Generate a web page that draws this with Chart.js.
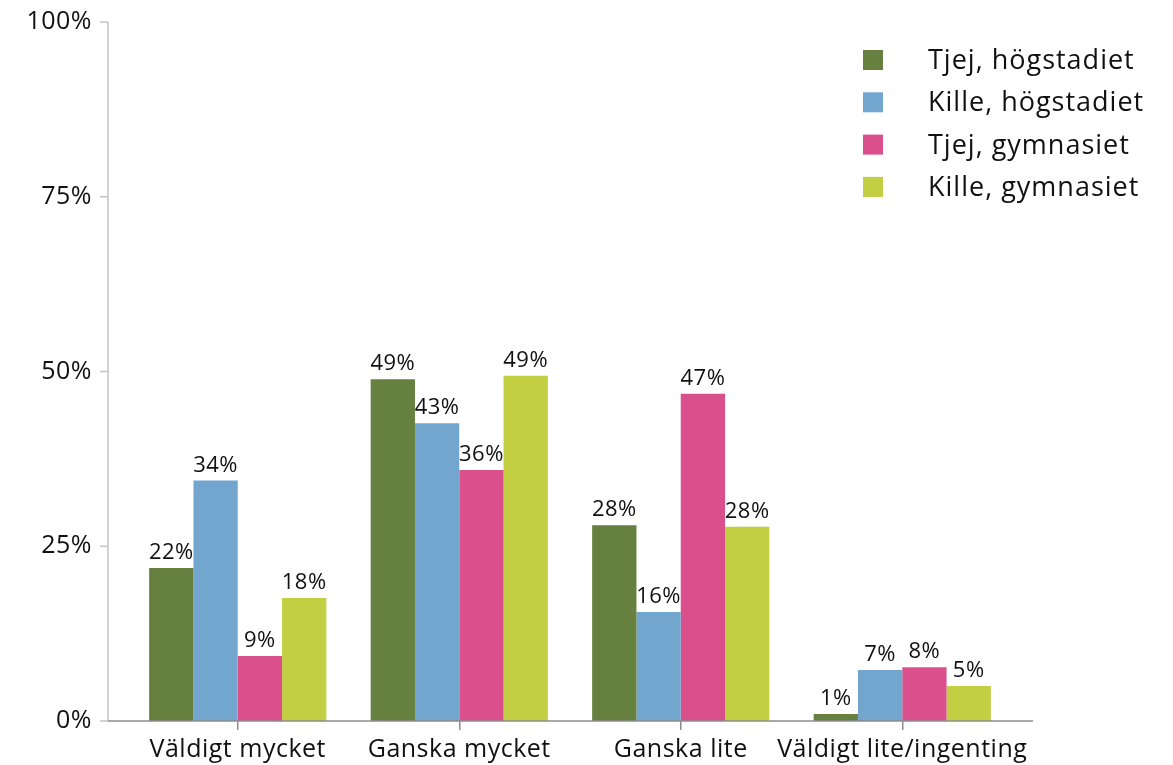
<!DOCTYPE html>
<html>
<head>
<meta charset="utf-8">
<script src="https://cdn.jsdelivr.net/npm/chart.js@4"></script>
<style>
html,body{margin:0;padding:0;background:#fff;}
#wrap{width:1173px;height:765px;position:relative;}
</style>
</head>
<body>
<div id="wrap"><canvas id="c" width="1173" height="765"></canvas></div>
<script>
const categories = ['Väldigt mycket', 'Ganska mycket', 'Ganska lite', 'Väldigt lite/ingenting'];
const seriesNames = ['Tjej, högstadiet', 'Kille, högstadiet', 'Tjej, gymnasiet', 'Kille, gymnasiet'];
const tjejHogstadiet = [21.9, 48.9, 28.0, 1.0];
const killeHogstadiet = [34.4, 42.6, 15.6, 7.3];
const tjejGymnasiet = [9.3, 35.9, 46.8, 7.7];
const killeGymnasiet = [17.6, 49.4, 27.8, 5.0];
const yTicks = [0, 25, 50, 75, 100];
const colors = ['#65803f', '#73a6cf', '#d9508c', '#c2cf42'];

const FONT = "'Open Sans', sans-serif";

const spacingPlugin = {
  id: 'spacingPlugin',
  beforeDraw(chart) { chart.ctx.letterSpacing = '0.5px'; }
};

const axesPlugin = {
  id: 'axesPlugin',
  afterDraw(chart) {
    const ctx = chart.ctx;
    const ca = chart.chartArea;
    const ys = chart.scales.y;
    const ext = 19;
    const axX = ca.left - ext;
    ctx.save();
    // y axis
    ctx.strokeStyle = '#c4c4c4';
    ctx.lineWidth = 1.5;
    ctx.beginPath();
    ctx.moveTo(axX, ys.getPixelForValue(100));
    ctx.lineTo(axX, ys.getPixelForValue(0));
    ctx.stroke();
    yTicks.forEach(v => {
      const py = ys.getPixelForValue(v);
      ctx.beginPath();
      ctx.moveTo(axX - 8, py);
      ctx.lineTo(axX, py);
      ctx.stroke();
    });
    // x axis
    ctx.strokeStyle = '#8c8c8c';
    ctx.beginPath();
    ctx.moveTo(axX, ys.getPixelForValue(0));
    ctx.lineTo(ca.right + 20, ys.getPixelForValue(0));
    ctx.stroke();
    // data labels
    ctx.fillStyle = '#111';
    ctx.letterSpacing = '0.5px';
    ctx.font = "22px " + FONT;
    ctx.textAlign = 'center';
    ctx.textBaseline = 'alphabetic';
    chart.data.datasets.forEach((ds, i) => {
      const meta = chart.getDatasetMeta(i);
      meta.data.forEach((bar, j) => {
        ctx.fillText(Math.round(ds.data[j]) + '%', bar.x, bar.y - 9);
      });
    });
    // legend
    ctx.textAlign = 'left';
    ctx.textBaseline = 'middle';
    ctx.letterSpacing = '1px';
    ctx.font = "27px " + FONT;
    chart.data.datasets.forEach((ds, i) => {
      const cy = 60 + i * 42.3;
      ctx.fillStyle = ds.backgroundColor;
      ctx.fillRect(863, cy - 10, 20, 20);
      ctx.fillStyle = '#111';
      ctx.fillText(ds.label, 928, cy + 1.5);
    });
    ctx.restore();
  }
};

new Chart(document.getElementById('c'), {
  type: 'bar',
  data: {
    labels: categories,
    datasets: [
      { label: seriesNames[0], data: tjejHogstadiet, backgroundColor: colors[0] },
      { label: seriesNames[1], data: killeHogstadiet, backgroundColor: colors[1] },
      { label: seriesNames[2], data: tjejGymnasiet, backgroundColor: colors[2] },
      { label: seriesNames[3], data: killeGymnasiet, backgroundColor: colors[3] }
    ]
  },
  options: {
    responsive: false,
    animation: false,
    devicePixelRatio: 1,
    layout: { padding: { top: 22, right: 160, left: 0, bottom: 0 } },
    datasets: { bar: { categoryPercentage: 0.8, barPercentage: 1.0, borderWidth: 0 } },
    plugins: { legend: { display: false }, tooltip: { enabled: false } },
    scales: {
      x: {
        grid: { display: true, drawOnChartArea: false, drawTicks: true, tickLength: 9, offset: false, color: '#8c8c8c', lineWidth: 1.5 },
        border: { display: false },
        ticks: { color: '#111', font: { family: FONT, size: 25 }, padding: 5, maxRotation: 0, autoSkip: false },
        afterFit(scale) { scale.height = 44; scale.paddingLeft = 0; scale.paddingRight = 0; }
      },
      y: {
        min: 0, max: 100,
        afterBuildTicks(scale) { scale.ticks = yTicks.map(v => ({ value: v })); },
        grid: { display: false, drawTicks: false },
        border: { display: false },
        ticks: { color: '#111', font: { family: FONT, size: 25 }, padding: 35, callback: v => v + '%' },
        afterFit(scale) { scale.width = 127; scale.paddingTop = 0; scale.paddingBottom = 0; }
      }
    }
  },
  plugins: [spacingPlugin, axesPlugin]
});
</script>
</body>
</html>
